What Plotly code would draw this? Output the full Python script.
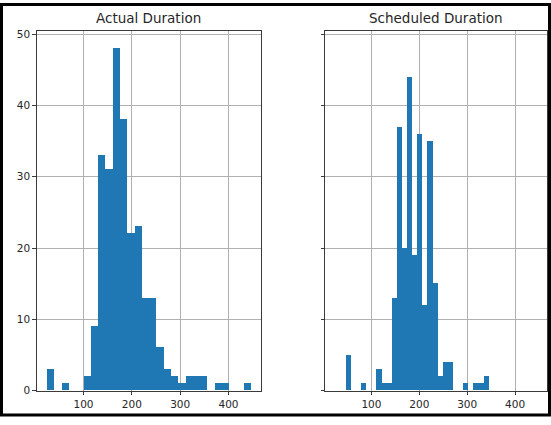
import plotly.graph_objects as go
from plotly.subplots import make_subplots

# ---- data (histogram counts, 28 equal bins each) ----
titles = ["Actual Duration", "Scheduled Duration"]

actual_min = 24.2
actual_max = 446.2
actual_counts = [3, 0, 1, 0, 0, 2, 9, 33, 31, 48, 38, 22, 23, 13,
                 13, 6, 3, 2, 1, 2, 2, 2, 0, 1, 1, 0, 0, 1]

sched_min = 46.7
sched_max = 344.9
sched_counts = [5, 0, 0, 1, 0, 0, 3, 1, 1, 13, 37, 20, 44, 19,
                36, 12, 35, 15, 2, 4, 4, 0, 0, 1, 0, 1, 1, 2]

x_ticks = [100, 200, 300, 400]
y_ticks = [0, 10, 20, 30, 40, 50]


def bins(lo, hi, counts):
    n = len(counts)
    w = (hi - lo) / n
    centers = [lo + w * (i + 0.5) for i in range(n)]
    return centers, w


W, H = 551, 425
BAR = "#1f77b4"
TXT = "#262626"
SPINE = "#3a3a3a"
GRID = "#b0b0b0"
FONT = "DejaVu Sans"

fig = make_subplots(rows=1, cols=2, shared_yaxes=True)

for col, (lo, hi, cnt) in enumerate([(actual_min, actual_max, actual_counts),
                                      (sched_min, sched_max, sched_counts)], start=1):
    c, w = bins(lo, hi, cnt)
    fig.add_trace(go.Bar(x=c, y=cnt, width=w, marker=dict(color=BAR, line=dict(width=0)),
                         showlegend=False, hoverinfo="x+y"), row=1, col=col)

# shared x limits like matplotlib (5% margin on union of data range)
lo_all = min(actual_min, sched_min)
hi_all = max(actual_max, sched_max)
pad = 0.05 * (hi_all - lo_all)
xr = [lo_all - pad, hi_all + pad]
yr = [0, max(max(actual_counts), max(sched_counts)) * 1.05]

ax_common = dict(showline=True, mirror=True, linecolor=SPINE, linewidth=1,
                 showgrid=True, gridcolor=GRID, gridwidth=1, zeroline=False,
                 ticks="outside", ticklen=3.5, tickwidth=1, tickcolor=SPINE,
                 tickfont=dict(family=FONT, size=10.5, color=TXT))

y0 = 1 - 396 / H
y1 = 1 - 29 / H
fig.update_xaxes(range=xr, tickvals=x_ticks, **ax_common)
fig.update_yaxes(range=yr, tickvals=y_ticks, domain=[y0, y1], **ax_common)
fig.update_layout(
    xaxis=dict(domain=[36.7 / W, 261 / W]),
    xaxis2=dict(domain=[325 / W, 547.3 / W]),
    yaxis2=dict(showticklabels=False),
)

annos = []
for t, (a, b) in zip(titles, [(36.7, 261), (325, 547.3)]):
    annos.append(dict(text=t, x=(a + b) / 2 / W, y=1 - 15.5 / H, xref="paper", yref="paper",
                      showarrow=False, xanchor="center", yanchor="middle",
                      font=dict(family=FONT, size=13.5, color=TXT)))

fig.update_layout(
    width=W, height=H, autosize=False,
    margin=dict(l=0, r=0, t=0, b=0, pad=0),
    paper_bgcolor="white", plot_bgcolor="white",
    bargap=0, annotations=annos,
    shapes=[dict(type="rect", xref="paper", yref="paper",
                 x0=1.5 / W, x1=549.5 / W, y0=1 - 421 / H, y1=1 - 1.5 / H,
                 line=dict(color="black", width=3), fillcolor="rgba(0,0,0,0)", layer="above")],
)

post = (
    "var h=document.documentElement,b=document.body;"
    "h.style.margin='0';h.style.padding='0';h.style.overflow='hidden';"
    "b.style.margin='0';b.style.padding='0';b.style.overflow='hidden';"
)

fig.write_html("out.html",
               config={"displayModeBar": False, "responsive": False},
               post_script=post)
